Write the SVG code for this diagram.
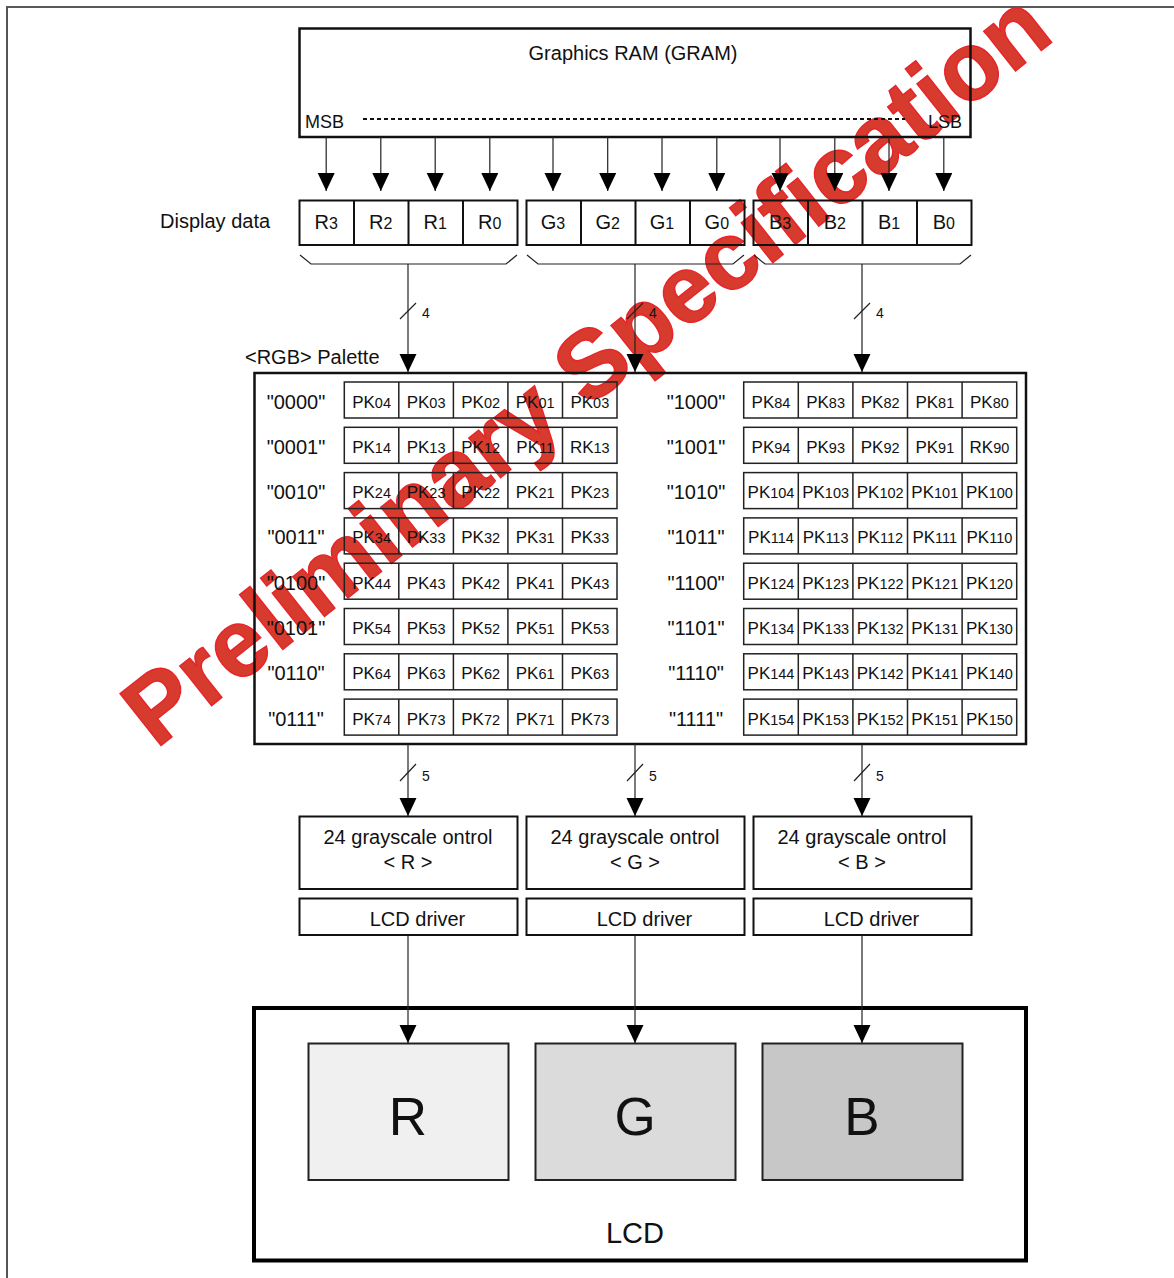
<svg xmlns="http://www.w3.org/2000/svg" width="1174" height="1278" viewBox="0 0 1174 1278">
<style>
text{font-family:"Liberation Sans",Arial,sans-serif;fill:#111}
.t20{font-size:20px}
.ctr{text-anchor:middle}
.box{fill:none;stroke:#111;stroke-width:2.5}
.box2{fill:none;stroke:#111;stroke-width:2}
.cell{fill:none;stroke:#222;stroke-width:1.5}
.pk{font-size:17px;text-anchor:middle}
.sub{font-size:14.5px}
.ln{stroke:#222;stroke-width:1.2;fill:none}
.sm{font-size:14px}
</style>
<defs>
<marker id="ah" markerUnits="userSpaceOnUse" markerWidth="18" markerHeight="18" refX="18" refY="8.5" orient="auto">
<path d="M0,0 L18,8.5 L0,17 z" fill="#000"/>
</marker>
</defs>
<rect width="1174" height="1278" fill="#fff"/>
<g id="page-frame">
<line x1="6" y1="7" x2="1174" y2="7" stroke="#222" stroke-width="1.3"/>
<line x1="7" y1="7" x2="7" y2="1278" stroke="#555" stroke-width="2"/>
</g>
<g id="watermark">
<text transform="translate(156,749.5) rotate(-38.3)" font-size="96" font-weight="bold" style="fill:#d63b2d" stroke="#e8252b" stroke-width="1.5">Preliminary Specification</text>
</g>
<g id="gram">
<rect class="box" x="299.5" y="28.5" width="671" height="108.5"/>
<text class="t20 ctr" x="633" y="60">Graphics RAM (GRAM)</text>
<text x="305" y="128" font-size="18">MSB</text>
<text x="962" y="128" font-size="18" text-anchor="end">LSB</text>
<line x1="363" y1="119" x2="905" y2="119" stroke="#111" stroke-width="2" stroke-dasharray="4,3"/>
</g>
<g id="display-data">
<text class="t20" x="160" y="228">Display data</text>
<g id="data-r">
<rect class="box2" x="299.5" y="200.5" width="218" height="44.5"/>
<path class="box2" d="M354,200.5V245M408.5,200.5V245M463,200.5V245"/>
<text class="t20 ctr" x="326.2" y="229">R<tspan font-size="16">3</tspan></text>
<text class="t20 ctr" x="380.8" y="229">R<tspan font-size="16">2</tspan></text>
<text class="t20 ctr" x="435.2" y="229">R<tspan font-size="16">1</tspan></text>
<text class="t20 ctr" x="489.8" y="229">R<tspan font-size="16">0</tspan></text>
</g>
<g id="data-g">
<rect class="box2" x="526.5" y="200.5" width="218" height="44.5"/>
<path class="box2" d="M581,200.5V245M635.5,200.5V245M690,200.5V245"/>
<text class="t20 ctr" x="553" y="229">G<tspan font-size="16">3</tspan></text>
<text class="t20 ctr" x="607.7" y="229">G<tspan font-size="16">2</tspan></text>
<text class="t20 ctr" x="662" y="229">G<tspan font-size="16">1</tspan></text>
<text class="t20 ctr" x="716.8" y="229">G<tspan font-size="16">0</tspan></text>
</g>
<g id="data-b">
<rect class="box2" x="753.5" y="200.5" width="218" height="44.5"/>
<path class="box2" d="M808,200.5V245M862.5,200.5V245M917,200.5V245"/>
<text class="t20 ctr" x="780" y="229">B<tspan font-size="16">3</tspan></text>
<text class="t20 ctr" x="834.8" y="229">B<tspan font-size="16">2</tspan></text>
<text class="t20 ctr" x="889" y="229">B<tspan font-size="16">1</tspan></text>
<text class="t20 ctr" x="943.8" y="229">B<tspan font-size="16">0</tspan></text>
</g>
</g>
<g id="palette">
<text class="t20" x="245" y="364">&lt;RGB&gt; Palette</text>
<rect class="box" x="254.5" y="373" width="771.5" height="371"/>
<g id="palette-left">
<g id="row-0000">
<text class="t20 ctr" x="296" y="408.5">"0000"</text>
<rect class="cell" x="344.3" y="382" width="272.7" height="36"/>
<path class="cell" d="M398.8,382v36M453.4,382v36M507.9,382v36M562.5,382v36"/>
<text class="pk" x="371.6" y="407.5">PK<tspan class="sub">04</tspan></text>
<text class="pk" x="426.1" y="407.5">PK<tspan class="sub">03</tspan></text>
<text class="pk" x="480.7" y="407.5">PK<tspan class="sub">02</tspan></text>
<text class="pk" x="535.2" y="407.5">PK<tspan class="sub">01</tspan></text>
<text class="pk" x="589.8" y="407.5">PK<tspan class="sub">03</tspan></text>
</g>
<g id="row-0001">
<text class="t20 ctr" x="296" y="453.8">"0001"</text>
<rect class="cell" x="344.3" y="427.3" width="272.7" height="36"/>
<path class="cell" d="M398.8,427.3v36M453.4,427.3v36M507.9,427.3v36M562.5,427.3v36"/>
<text class="pk" x="371.6" y="452.8">PK<tspan class="sub">14</tspan></text>
<text class="pk" x="426.1" y="452.8">PK<tspan class="sub">13</tspan></text>
<text class="pk" x="480.7" y="452.8">PK<tspan class="sub">12</tspan></text>
<text class="pk" x="535.2" y="452.8">PK<tspan class="sub">11</tspan></text>
<text class="pk" x="589.8" y="452.8">RK<tspan class="sub">13</tspan></text>
</g>
<g id="row-0010">
<text class="t20 ctr" x="296" y="499.1">"0010"</text>
<rect class="cell" x="344.3" y="472.6" width="272.7" height="36"/>
<path class="cell" d="M398.8,472.6v36M453.4,472.6v36M507.9,472.6v36M562.5,472.6v36"/>
<text class="pk" x="371.6" y="498.1">PK<tspan class="sub">24</tspan></text>
<text class="pk" x="426.1" y="498.1">PK<tspan class="sub">23</tspan></text>
<text class="pk" x="480.7" y="498.1">PK<tspan class="sub">22</tspan></text>
<text class="pk" x="535.2" y="498.1">PK<tspan class="sub">21</tspan></text>
<text class="pk" x="589.8" y="498.1">PK<tspan class="sub">23</tspan></text>
</g>
<g id="row-0011">
<text class="t20 ctr" x="296" y="544.4">"0011"</text>
<rect class="cell" x="344.3" y="517.9" width="272.7" height="36"/>
<path class="cell" d="M398.8,517.9v36M453.4,517.9v36M507.9,517.9v36M562.5,517.9v36"/>
<text class="pk" x="371.6" y="543.4">PK<tspan class="sub">34</tspan></text>
<text class="pk" x="426.1" y="543.4">PK<tspan class="sub">33</tspan></text>
<text class="pk" x="480.7" y="543.4">PK<tspan class="sub">32</tspan></text>
<text class="pk" x="535.2" y="543.4">PK<tspan class="sub">31</tspan></text>
<text class="pk" x="589.8" y="543.4">PK<tspan class="sub">33</tspan></text>
</g>
<g id="row-0100">
<text class="t20 ctr" x="296" y="589.7">"0100"</text>
<rect class="cell" x="344.3" y="563.2" width="272.7" height="36"/>
<path class="cell" d="M398.8,563.2v36M453.4,563.2v36M507.9,563.2v36M562.5,563.2v36"/>
<text class="pk" x="371.6" y="588.7">PK<tspan class="sub">44</tspan></text>
<text class="pk" x="426.1" y="588.7">PK<tspan class="sub">43</tspan></text>
<text class="pk" x="480.7" y="588.7">PK<tspan class="sub">42</tspan></text>
<text class="pk" x="535.2" y="588.7">PK<tspan class="sub">41</tspan></text>
<text class="pk" x="589.8" y="588.7">PK<tspan class="sub">43</tspan></text>
</g>
<g id="row-0101">
<text class="t20 ctr" x="296" y="635">"0101"</text>
<rect class="cell" x="344.3" y="608.5" width="272.7" height="36"/>
<path class="cell" d="M398.8,608.5v36M453.4,608.5v36M507.9,608.5v36M562.5,608.5v36"/>
<text class="pk" x="371.6" y="634">PK<tspan class="sub">54</tspan></text>
<text class="pk" x="426.1" y="634">PK<tspan class="sub">53</tspan></text>
<text class="pk" x="480.7" y="634">PK<tspan class="sub">52</tspan></text>
<text class="pk" x="535.2" y="634">PK<tspan class="sub">51</tspan></text>
<text class="pk" x="589.8" y="634">PK<tspan class="sub">53</tspan></text>
</g>
<g id="row-0110">
<text class="t20 ctr" x="296" y="680.3">"0110"</text>
<rect class="cell" x="344.3" y="653.8" width="272.7" height="36"/>
<path class="cell" d="M398.8,653.8v36M453.4,653.8v36M507.9,653.8v36M562.5,653.8v36"/>
<text class="pk" x="371.6" y="679.3">PK<tspan class="sub">64</tspan></text>
<text class="pk" x="426.1" y="679.3">PK<tspan class="sub">63</tspan></text>
<text class="pk" x="480.7" y="679.3">PK<tspan class="sub">62</tspan></text>
<text class="pk" x="535.2" y="679.3">PK<tspan class="sub">61</tspan></text>
<text class="pk" x="589.8" y="679.3">PK<tspan class="sub">63</tspan></text>
</g>
<g id="row-0111">
<text class="t20 ctr" x="296" y="725.6">"0111"</text>
<rect class="cell" x="344.3" y="699.1" width="272.7" height="36"/>
<path class="cell" d="M398.8,699.1v36M453.4,699.1v36M507.9,699.1v36M562.5,699.1v36"/>
<text class="pk" x="371.6" y="724.6">PK<tspan class="sub">74</tspan></text>
<text class="pk" x="426.1" y="724.6">PK<tspan class="sub">73</tspan></text>
<text class="pk" x="480.7" y="724.6">PK<tspan class="sub">72</tspan></text>
<text class="pk" x="535.2" y="724.6">PK<tspan class="sub">71</tspan></text>
<text class="pk" x="589.8" y="724.6">PK<tspan class="sub">73</tspan></text>
</g>
</g>
<g id="palette-right">
<g id="row-1000">
<text class="t20 ctr" x="696" y="408.5">"1000"</text>
<rect class="cell" x="743.7" y="382" width="273" height="36"/>
<path class="cell" d="M798.3,382v36M852.9,382v36M907.5,382v36M962.1,382v36"/>
<text class="pk" x="771" y="407.5">PK<tspan class="sub">84</tspan></text>
<text class="pk" x="825.6" y="407.5">PK<tspan class="sub">83</tspan></text>
<text class="pk" x="880.2" y="407.5">PK<tspan class="sub">82</tspan></text>
<text class="pk" x="934.8" y="407.5">PK<tspan class="sub">81</tspan></text>
<text class="pk" x="989.4" y="407.5">PK<tspan class="sub">80</tspan></text>
</g>
<g id="row-1001">
<text class="t20 ctr" x="696" y="453.8">"1001"</text>
<rect class="cell" x="743.7" y="427.3" width="273" height="36"/>
<path class="cell" d="M798.3,427.3v36M852.9,427.3v36M907.5,427.3v36M962.1,427.3v36"/>
<text class="pk" x="771" y="452.8">PK<tspan class="sub">94</tspan></text>
<text class="pk" x="825.6" y="452.8">PK<tspan class="sub">93</tspan></text>
<text class="pk" x="880.2" y="452.8">PK<tspan class="sub">92</tspan></text>
<text class="pk" x="934.8" y="452.8">PK<tspan class="sub">91</tspan></text>
<text class="pk" x="989.4" y="452.8">RK<tspan class="sub">90</tspan></text>
</g>
<g id="row-1010">
<text class="t20 ctr" x="696" y="499.1">"1010"</text>
<rect class="cell" x="743.7" y="472.6" width="273" height="36"/>
<path class="cell" d="M798.3,472.6v36M852.9,472.6v36M907.5,472.6v36M962.1,472.6v36"/>
<text class="pk" x="771" y="498.1">PK<tspan class="sub">104</tspan></text>
<text class="pk" x="825.6" y="498.1">PK<tspan class="sub">103</tspan></text>
<text class="pk" x="880.2" y="498.1">PK<tspan class="sub">102</tspan></text>
<text class="pk" x="934.8" y="498.1">PK<tspan class="sub">101</tspan></text>
<text class="pk" x="989.4" y="498.1">PK<tspan class="sub">100</tspan></text>
</g>
<g id="row-1011">
<text class="t20 ctr" x="696" y="544.4">"1011"</text>
<rect class="cell" x="743.7" y="517.9" width="273" height="36"/>
<path class="cell" d="M798.3,517.9v36M852.9,517.9v36M907.5,517.9v36M962.1,517.9v36"/>
<text class="pk" x="771" y="543.4">PK<tspan class="sub">114</tspan></text>
<text class="pk" x="825.6" y="543.4">PK<tspan class="sub">113</tspan></text>
<text class="pk" x="880.2" y="543.4">PK<tspan class="sub">112</tspan></text>
<text class="pk" x="934.8" y="543.4">PK<tspan class="sub">111</tspan></text>
<text class="pk" x="989.4" y="543.4">PK<tspan class="sub">110</tspan></text>
</g>
<g id="row-1100">
<text class="t20 ctr" x="696" y="589.7">"1100"</text>
<rect class="cell" x="743.7" y="563.2" width="273" height="36"/>
<path class="cell" d="M798.3,563.2v36M852.9,563.2v36M907.5,563.2v36M962.1,563.2v36"/>
<text class="pk" x="771" y="588.7">PK<tspan class="sub">124</tspan></text>
<text class="pk" x="825.6" y="588.7">PK<tspan class="sub">123</tspan></text>
<text class="pk" x="880.2" y="588.7">PK<tspan class="sub">122</tspan></text>
<text class="pk" x="934.8" y="588.7">PK<tspan class="sub">121</tspan></text>
<text class="pk" x="989.4" y="588.7">PK<tspan class="sub">120</tspan></text>
</g>
<g id="row-1101">
<text class="t20 ctr" x="696" y="635">"1101"</text>
<rect class="cell" x="743.7" y="608.5" width="273" height="36"/>
<path class="cell" d="M798.3,608.5v36M852.9,608.5v36M907.5,608.5v36M962.1,608.5v36"/>
<text class="pk" x="771" y="634">PK<tspan class="sub">134</tspan></text>
<text class="pk" x="825.6" y="634">PK<tspan class="sub">133</tspan></text>
<text class="pk" x="880.2" y="634">PK<tspan class="sub">132</tspan></text>
<text class="pk" x="934.8" y="634">PK<tspan class="sub">131</tspan></text>
<text class="pk" x="989.4" y="634">PK<tspan class="sub">130</tspan></text>
</g>
<g id="row-1110">
<text class="t20 ctr" x="696" y="680.3">"1110"</text>
<rect class="cell" x="743.7" y="653.8" width="273" height="36"/>
<path class="cell" d="M798.3,653.8v36M852.9,653.8v36M907.5,653.8v36M962.1,653.8v36"/>
<text class="pk" x="771" y="679.3">PK<tspan class="sub">144</tspan></text>
<text class="pk" x="825.6" y="679.3">PK<tspan class="sub">143</tspan></text>
<text class="pk" x="880.2" y="679.3">PK<tspan class="sub">142</tspan></text>
<text class="pk" x="934.8" y="679.3">PK<tspan class="sub">141</tspan></text>
<text class="pk" x="989.4" y="679.3">PK<tspan class="sub">140</tspan></text>
</g>
<g id="row-1111">
<text class="t20 ctr" x="696" y="725.6">"1111"</text>
<rect class="cell" x="743.7" y="699.1" width="273" height="36"/>
<path class="cell" d="M798.3,699.1v36M852.9,699.1v36M907.5,699.1v36M962.1,699.1v36"/>
<text class="pk" x="771" y="724.6">PK<tspan class="sub">154</tspan></text>
<text class="pk" x="825.6" y="724.6">PK<tspan class="sub">153</tspan></text>
<text class="pk" x="880.2" y="724.6">PK<tspan class="sub">152</tspan></text>
<text class="pk" x="934.8" y="724.6">PK<tspan class="sub">151</tspan></text>
<text class="pk" x="989.4" y="724.6">PK<tspan class="sub">150</tspan></text>
</g>
</g>
</g>
<g id="grayscale-r">
<rect class="box2" x="299.5" y="816.5" width="218" height="72.5"/>
<text class="t20 ctr" x="408" y="844">24 grayscale ontrol</text>
<text class="t20 ctr" x="408" y="869">&lt; R &gt;</text>
</g>
<g id="grayscale-g">
<rect class="box2" x="526.5" y="816.5" width="218" height="72.5"/>
<text class="t20 ctr" x="635" y="844">24 grayscale ontrol</text>
<text class="t20 ctr" x="635" y="869">&lt; G &gt;</text>
</g>
<g id="grayscale-b">
<rect class="box2" x="753.5" y="816.5" width="218" height="72.5"/>
<text class="t20 ctr" x="862" y="844">24 grayscale ontrol</text>
<text class="t20 ctr" x="862" y="869">&lt; B &gt;</text>
</g>
<g id="driver-r">
<rect class="box2" x="299.5" y="898.5" width="218" height="36.5"/>
<text class="t20 ctr" x="417.5" y="926">LCD driver</text>
</g>
<g id="driver-g">
<rect class="box2" x="526.5" y="898.5" width="218" height="36.5"/>
<text class="t20 ctr" x="644.5" y="926">LCD driver</text>
</g>
<g id="driver-b">
<rect class="box2" x="753.5" y="898.5" width="218" height="36.5"/>
<text class="t20 ctr" x="871.5" y="926">LCD driver</text>
</g>
<g id="lcd">
<rect x="254" y="1008" width="772" height="252.5" fill="none" stroke="#000" stroke-width="4"/>
<text class="ctr" x="635" y="1243" font-size="29">LCD</text>
<g id="lcd-r">
<rect x="308.5" y="1043.5" width="200" height="136.5" fill="#f0f0f0" stroke="#222" stroke-width="2"/>
<text class="ctr" x="408" y="1135" font-size="53">R</text>
</g>
<g id="lcd-g">
<rect x="535.5" y="1043.5" width="200" height="136.5" fill="#dbdbdb" stroke="#222" stroke-width="2"/>
<text class="ctr" x="635" y="1135" font-size="53">G</text>
</g>
<g id="lcd-b">
<rect x="762.5" y="1043.5" width="200" height="136.5" fill="#c7c7c7" stroke="#222" stroke-width="2"/>
<text class="ctr" x="862" y="1135" font-size="53">B</text>
</g>
</g>
<g id="connectors">
<g class="ln" marker-end="url(#ah)">
<line x1="326.2" y1="137" x2="326.2" y2="191"/>
<line x1="380.8" y1="137" x2="380.8" y2="191"/>
<line x1="435.2" y1="137" x2="435.2" y2="191"/>
<line x1="489.8" y1="137" x2="489.8" y2="191"/>
<line x1="553" y1="137" x2="553" y2="191"/>
<line x1="607.7" y1="137" x2="607.7" y2="191"/>
<line x1="662" y1="137" x2="662" y2="191"/>
<line x1="716.8" y1="137" x2="716.8" y2="191"/>
<line x1="780" y1="137" x2="780" y2="191"/>
<line x1="834.8" y1="137" x2="834.8" y2="191"/>
<line x1="889" y1="137" x2="889" y2="191"/>
<line x1="943.8" y1="137" x2="943.8" y2="191"/>
<line x1="408" y1="264" x2="408" y2="372"/>
<line x1="635" y1="264" x2="635" y2="372"/>
<line x1="862" y1="264" x2="862" y2="372"/>
<line x1="408" y1="744" x2="408" y2="816"/>
<line x1="635" y1="744" x2="635" y2="816"/>
<line x1="862" y1="744" x2="862" y2="816"/>
<line x1="408" y1="935" x2="408" y2="1043"/>
<line x1="635" y1="935" x2="635" y2="1043"/>
<line x1="862" y1="935" x2="862" y2="1043"/>
</g>
<path class="ln" d="M300,255L311,264H506L517,255M527,255L538,264H733L744,255M754,255L765,264H960L971,255"/>
<path class="ln" d="M400,319L416,303M627,319L643,303M854,319L870,303M400,781L416,764M627,781L643,764M854,781L870,764"/>
<text class="sm" x="422" y="318">4</text>
<text class="sm" x="649" y="318">4</text>
<text class="sm" x="876" y="318">4</text>
<text class="sm" x="422" y="781">5</text>
<text class="sm" x="649" y="781">5</text>
<text class="sm" x="876" y="781">5</text>
</g>
</svg>
